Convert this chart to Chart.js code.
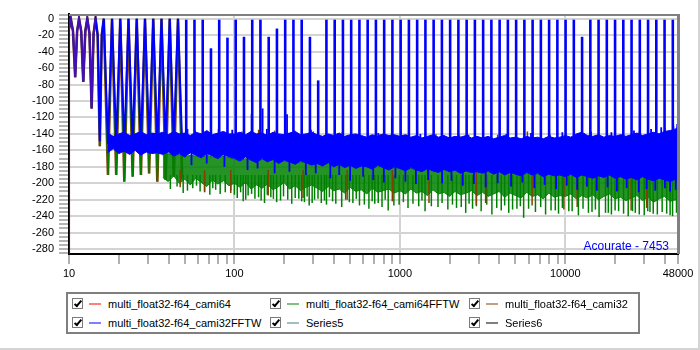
<!DOCTYPE html>
<html>
<head>
<meta charset="utf-8">
<script src="https://cdn.jsdelivr.net/npm/chart.js@4/dist/chart.umd.min.js"></script>
<style>
  html, body { margin: 0; padding: 0; background: #fff; }
  #quadro { position: relative; width: 700px; height: 350px; box-sizing: border-box;
            border-right: 2px solid #d4d4d4; border-bottom: 2px solid #d4d4d4; overflow: hidden;
            font-family: 'Liberation Sans', Arial, sans-serif; }
  #grafico { position: absolute; left: 0; top: 0; }
  #marca { position: absolute; right: 29px; top: 239px; font-size: 12px; line-height: 14px; color: #0000ff; }
  #legenda { position: absolute; left: 66px; top: 292px; width: 574px; height: 42px;
             box-sizing: border-box; border: 2px solid #7f7f7f; }
  .item { position: absolute; height: 14px; font-size: 11px; line-height: 14px; white-space: nowrap; }
  .caixa { position: absolute; left: 0; top: 1px; width: 11px; height: 11px; box-sizing: border-box;
           border: 1px solid #7a7a7a; background: #fff; }
  .caixa::after { content: ''; position: absolute; left: 3px; top: 0; width: 2px; height: 6px;
                  border-right: 2px solid #000; border-bottom: 2px solid #000; transform: rotate(40deg); }
  .traco { position: absolute; left: 17px; top: 6px; width: 12px; height: 2px; opacity: 0.5; }
  .nome { position: absolute; left: 36px; top: 0; color: #000; }
</style>
</head>
<body>
<div id="quadro">
  <canvas id="grafico" width="700" height="290"></canvas>
  <div id="marca">Acourate - 7453</div>
  <div id="legenda"></div>
</div>
<script>
// séries (ordem da legenda, preenchida por coluna)
const nomesSeries = ['multi_float32-f64_cami64', 'multi_float32-f64_cami32FFTW', 'multi_float32-f64_cami64FFTW',
                     'Series5', 'multi_float32-f64_cami32', 'Series6'];
const coresSeries = ['#ff0000', '#0000ff', '#008000', '#408080', '#804000', '#000000'];

// eixos
const ticksX = [10, 20, 30, 40, 50, 60, 70, 80, 90, 100, 200, 300, 400, 500, 600, 700, 800, 900,
                1000, 2000, 3000, 4000, 5000, 6000, 7000, 8000, 9000, 10000, 20000, 30000, 40000, 48000];
const rotulosX = [10, 100, 1000, 10000, 48000];
const gradeX = [100, 1000, 10000];
const rotulosY = [0, -20, -40, -60, -80, -100, -120, -140, -160, -180, -200, -220, -240, -260, -280];
const passoMenorY = 5;

// tons do sinal multitom (Hz) e nível de pico de cada um (dB)
const frequenciasTons = [10.25, 11.5, 12.9, 14.47, 16.23, 18.2, 20.41, 22.89, 25.67, 28.8,
  32.3, 36.23, 40.63, 45.58, 51.12, 57.34, 64.31, 72.13, 80.91, 90.75,
  101.8, 114.2, 128.1, 143.6, 161.1, 180.7, 202.7, 227.3, 255.0, 286.0,
  320.8, 359.8, 403.6, 452.7, 507.8, 569.5, 638.8, 716.5, 803.7, 901.4,
  1011, 1134, 1272, 1427, 1600, 1795, 2013, 2258, 2533, 2841,
  3187, 3574, 4009, 4497, 5044, 5657, 6345, 7117, 7983, 8954,
  10040, 11260, 12630, 14170, 15890, 17820, 19990, 22420, 25150, 28210,
  31640, 35490, 39810, 44650];
const picosTons = [0, 0, 0, 0, 0, 0, 0, 0, 0, 0,
  0, 0, 0, 0, 0, 0, 0, -36, 0, -23,
  0, -22, 0, 0, -22, -12, 0, 0, 0, -22,
  -75, 0, 0, 0, 0, 0, 0, 0, 0, 0,
  0, 0, 0, 0, 0, 0, 0, 0, 0, 0,
  0, 0, 0, 0, 0, 0, 0, 0, 0, 0,
  0, 0, -22, 0, 0, 0, 0, 0, 0, 0,
  0, 0, 0, 0];

// região de baixa frequência, onde os tons aparecem separados
const freqBaixas = [10.02, 10.25, 10.57, 10.9, 11.2, 11.5, 11.85, 12.2, 12.55, 12.9, 13.3, 13.7, 14.08,
  14.47, 14.9, 15.35, 15.78, 16.23, 17.2, 18.2, 19.3, 20.41, 21.6, 22.89, 24.25, 25.67, 27.2,
  28.8, 30.5, 32.3, 34.2, 36.23, 38.4, 40.63, 43.0, 45.58, 48.3];
const baixasAzul = [-12, 0, -15, -71, -15, 0, -15, -77, -15, 0, -18, -109, -18,
  0, -20, -149, -20, 0, -152, 0, -150, 0, -155, 0, -151, 0, -153,
  0, -150, 0, -154, 0, -152, 0, -150, 0, -153];
const baixasFundas = [-12, 0, -15, -71, -15, 0, -15, -77, -15, 0, -18, -109, -18,
  0, -20, -155, -20, 0, -190, 0, -190, 0, -198, 0, -192, 0, -190,
  0, -188, 0, -198, 0, -196, 0, -192, 0, -195];
const freqVermelho = [10.0, 10.02, 10.25, 10.57, 10.9, 11.2, 11.5, 11.85, 12.2, 12.55, 12.9, 13.3, 13.7, 14.08, 14.47];
const dbVermelho = [-300, -12, 0, -15, -71, -15, 0, -15, -77, -15, 0, -18, -109, -18, 0];

// piso de ruído: frequências e bordas superior/inferior de cada faixa (dB)
const freqRuido = [15.8, 17.1, 18.5, 20.0, 21.5, 23.3, 25.1, 27.1, 29.3, 31.6, 34.1, 36.9, 39.8, 43.0, 46.4, 50.1,
  54.1, 58.4, 63.1, 68.1, 73.6, 79.4, 85.8, 92.6,
  100, 108, 117, 126, 136, 147, 158, 171, 185, 200, 215, 233, 251, 271, 293, 316, 341, 369, 398, 430,
  464, 501, 541, 584, 631, 681, 736, 794, 858, 926,
  1000, 1080, 1166, 1259, 1359, 1468, 1585, 1711, 1848, 1995, 2154, 2326, 2512, 2712, 2929, 3162,
  3415, 3687, 3981, 4299, 4642, 5012, 5412, 5843, 6310, 6813, 7356, 7943, 8577, 9261,
  10000, 10800, 11660, 12590, 13590, 14680, 15850, 17110, 18480, 19950, 21540, 23260, 25120, 27120,
  29290, 31620, 34150, 36870, 39810, 42990, 46420, 48000];
const azulTopo = [null, -139, -143, -140, -138, -142, -140, -137, -141, -139, -140,
  -138, -141, -137, -140, -139, -142, -138, -140, -136, -141, -139, -137, -140,
  -140, -138, -141, -137, -140, -139, -142, -138, -140, -141, -139, -137, -141, -140, -138,
  -141, -143, -140, -142, -139, -143, -141, -140, -142, -144, -141, -143, -140, -142, -141,
  -143, -141, -144, -142, -145, -143, -141, -144, -142, -145, -143, -144, -142, -145, -143,
  -145, -143, -146, -144, -142, -145, -144, -146, -143, -145, -144, -146, -143, -145, -144,
  -142, -144, -140, -138, -142, -143, -141, -144, -142, -143, -141, -143,
  -141, -139, -142, -140, -138, -140, -137, -136, -134, -131];
const azulBase = [null, -163, -158, -164, -161, -165, -160, -166, -162, -164, -163,
  -165, -162, -167, -164, -168, -163, -166, -169, -164, -167, -170, -165, -168,
  -170, -173, -168, -172, -175, -170, -174, -171, -176, -172, -174, -177, -173, -175, -178,
  -176, -179, -175, -180, -177, -181, -178, -182, -179, -180, -183, -178, -181, -184, -180,
  -182, -185, -181, -184, -186, -182, -185, -187, -183, -186, -184, -188, -185, -187, -186,
  -188, -185, -189, -186, -190, -187, -189, -191, -187, -190, -188, -192, -189, -191, -190,
  -192, -189, -193, -190, -192, -194, -191, -193, -190, -194, -192, -195,
  -193, -196, -192, -195, -197, -194, -196, -198, -195, -197];
const verdeTopo = [null, null, null, null, null, null, null, null, null, null, null,
  -166, -164, -167, -165, -168, -166, -167, -169, -166, -168, -170, -167, -169,
  -171, -173, -170, -172, -174, -171, -173, -172, -175, -173, -174, -176, -174, -175, -177,
  -176, -178, -176, -179, -177, -180, -178, -181, -179, -180, -182, -179, -181, -183, -181,
  -182, -184, -182, -184, -185, -183, -185, -186, -184, -186, -185, -187, -185, -187, -186,
  -187, -186, -188, -187, -189, -187, -189, -190, -188, -190, -189, -191, -189, -191, -190,
  -191, -190, -192, -190, -191, -193, -191, -192, -190, -193, -192, -194,
  -192, -194, -192, -194, -195, -193, -195, -196, -194, -195];
const verdeBase = [null, null, null, null, null, null, null, null, null, null, null,
  -193, -198, -191, -200, -195, -202, -194, -199, -204, -196, -201, -197, -203,
  -200, -205, -199, -207, -202, -206, -201, -208, -204, -199, -207, -203, -209, -205, -202,
  -206, -210, -204, -209, -207, -212, -205, -210, -208, -213, -206, -211, -209, -207, -212,
  -209, -213, -207, -212, -210, -215, -208, -213, -211, -216, -210, -214, -212, -209, -215,
  -211, -216, -213, -210, -217, -212, -215, -218, -211, -216, -214, -219, -212, -217, -215,
  -216, -213, -219, -215, -218, -214, -220, -216, -213, -219, -217, -221,
  -218, -215, -221, -217, -223, -219, -216, -222, -220, -224];

// picos isolados que saem das faixas de ruído
const baseAzul = -155;
const riscosAzulHz = [52, 55, 68, 87, 97, 120, 127, 138, 148, 157, 175, 208, 215, 230, 270, 290, 310, 380, 430, 450,
  500, 600, 690, 740, 800, 894, 940, 1080, 1250, 1330, 1480, 1800, 2050, 2400, 2600, 2800, 3300, 3900, 4400, 4700,
  5500, 6200, 6500, 7500, 8800, 9600, 10200, 11800, 13500, 14300, 15500, 18000, 19000, 20500, 23500, 26000, 27800,
  31000, 33000, 35000, 38000, 40000, 43000, 45000, 46500, 47500];
const riscosAzulDb = [-134, -178, -176, -180, -135, -184, -116, -182, -109, -134, -188, -116, -186, -136, -190, -135, -188, -194, -190, -138,
  -197, -192, -196, -139, -199, -120, -194, -198, -201, -140, -196, -200, -197, -203, -141, -201, -205, -200, -140, -204,
  -199, -139, -206, -202, -207, -138, -203, -208, -204, -137, -209, -205, -138, -210, -206, -136, -211,
  -207, -134, -209, -132, -206, -210, -130, -208, -128];
const baseVerde = -190;
const picosVerdeHz = [41, 49, 56, 62, 71, 77, 88, 104, 113, 121, 133, 152, 166, 190, 222, 245, 265, 283, 305, 335,
  360, 392, 445, 520, 570, 650, 705, 780, 850, 990, 1120, 1300, 1420, 1700, 1950, 2200, 2500,
  2750, 3100, 3600, 4100, 4550, 5100, 5600, 6600, 7600, 8200, 9100, 10500, 12000, 13800, 16000, 17500, 19000,
  21000, 24000, 26500, 30000, 32500, 36000, 41000, 44500,
  45, 52, 59, 66, 74, 82, 95, 100, 109, 117, 127, 140, 145, 158, 172, 180, 198, 210, 233, 255,
  275, 295, 320, 350, 375, 410, 470, 495, 545, 610, 680, 740, 815, 920, 1050, 1200, 1360, 1550,
  1800, 2080, 2350, 2620, 2900, 3350, 3850, 4300, 4800, 5350, 6000, 7100, 8700, 9600, 11000, 12800,
  14500, 15200, 18200, 20000, 22500, 25500, 28000, 31500, 34000, 38500, 43000, 47000];
const picosVerdeDb = [-207, -212, -206, -210, -214, -208, -211, -218, -222, -215, -219, -224, -217, -221, -225, -219, -223, -227, -220, -224,
  -226, -222, -229, -224, -227, -231, -225, -229, -233, -226, -230, -228, -234, -229, -232, -230, -236,
  -231, -234, -238, -233, -236, -231, -242, -235, -238, -233, -237, -234, -239, -236, -241, -236, -238,
  -234, -240, -236, -239, -235, -238, -237, -240,
  -204, -209, -203, -211, -206, -213, -209, -214, -211, -220, -213, -217, -221, -214, -219, -223, -216, -220, -218, -222,
  -216, -224, -219, -221, -217, -225, -220, -223, -219, -226, -222, -224, -220, -227, -223, -225, -221, -228,
  -224, -226, -229, -225, -228, -226, -230, -227, -232, -228, -231, -229, -233, -230, -234, -231,
  -235, -232, -236, -233, -237, -234, -238, -234, -237, -235, -239, -236];
const marromHz = [58, 80, 111, 140, 175, 228, 300, 420, 560, 760, 1100, 1650, 2300, 3900, 5900, 8100, 13000, 22000, 28000, 40000,
  47, 66, 95, 160, 260, 480, 900, 1500, 2900, 3300, 6300, 9800, 11800, 25000, 31000];
const marromDe = [-150, -150, -150, -150, -150, -150, -150, -150, -150, -150, -150, -150, -150, -150, -150, -150, -150, -150, -150, -150,
  -184, -184, -184, -184, -184, -184, -184, -184, -184, -184, -184, -184, -184, -184, -184];
const marromAte = [-136, -134, -137, -135, -136, -138, -137, -139, -140, -140, -141, -140, -142, -141, -137, -141, -139, -140, -137, -133,
  -205, -210, -212, -215, -218, -220, -222, -224, -226, -224, -227, -232, -229, -233, -230];

const fonte = "'Liberation Sans', Arial, sans-serif";

function pontos(xs, ys) {
    return xs.map((x, i) => ({ x: x, y: ys[i] }));
}

// barras flutuantes finas: um traço vertical por frequência
function tracos(xs, de, ate) {
    return xs.map((x, i) => ({ x: x, y: [Array.isArray(de) ? de[i] : de, ate[i]] }));
}

function serie(nome, dados, cor, largura, ordem, extra) {
    return Object.assign({
        label: nome, data: dados, borderColor: cor, backgroundColor: cor,
        borderWidth: largura, pointRadius: 0, fill: false, order: ordem
    }, extra || {});
}

function barras(nome, dados, cor, espessura, ordem) {
    return {
        type: 'bar', label: nome, data: dados, backgroundColor: cor, borderWidth: 0,
        barThickness: espessura, grouped: false, inflateAmount: 0, order: ordem
    };
}

// tons acima da região de baixa frequência viram traços até o pico
const fimBaixas = freqBaixas[freqBaixas.length - 1];
const tonsHz = [], tonsDb = [];
frequenciasTons.forEach((f, i) => {
    if (f > fimBaixas) { tonsHz.push(f); tonsDb.push(picosTons[i]); }
});

const datasets = [
    serie(nomesSeries[0], pontos(freqVermelho, dbVermelho), 'rgba(150,30,90,0.45)', 2, 0),
    barras(nomesSeries[1], tracos(tonsHz, baseAzul, tonsDb), '#0000ff', 2.6, 1),
    barras(nomesSeries[1], tracos(riscosAzulHz, baseAzul, riscosAzulDb), '#0000ff', 1.8, 2),
    serie(nomesSeries[1], pontos(freqBaixas, baixasAzul), '#0000ff', 2, 3),
    serie(nomesSeries[1], pontos(freqRuido, azulTopo), '#0000ff', 1, 4, { fill: '+1' }),
    serie(nomesSeries[1], pontos(freqRuido, azulBase), '#0000ff', 1, 5),
    barras(nomesSeries[4], tracos(marromHz, marromDe, marromAte), '#804000', 1.5, 6),
    barras(nomesSeries[2], tracos(picosVerdeHz, baseVerde, picosVerdeDb), '#008000', 1.5, 7),
    serie(nomesSeries[2], pontos(freqBaixas, baixasFundas), '#008000', 1.3, 8),
    serie(nomesSeries[2], pontos(freqRuido, verdeTopo), '#008000', 1, 9, { fill: '+1', backgroundColor: 'rgba(0,128,0,0.85)' }),
    serie(nomesSeries[2], pontos(freqRuido, verdeBase), '#008000', 1, 10),
    serie(nomesSeries[4], pontos(freqBaixas, baixasFundas), '#804000', 2.6, 11)
];

// borda superior e direita da área do gráfico
const moldura = {
    id: 'moldura',
    afterDatasetsDraw(chart) {
        const c = chart.ctx, a = chart.chartArea;
        c.save();
        c.strokeStyle = '#808080';
        c.lineWidth = 2;
        c.beginPath(); c.moveTo(a.left, a.top + 1); c.lineTo(a.right + 2, a.top + 1); c.stroke();
        c.lineWidth = 3;
        c.beginPath(); c.moveTo(a.right + 0.5, a.top); c.lineTo(a.right + 0.5, a.bottom); c.stroke();
        c.restore();
    }
};

new Chart(document.getElementById('grafico'), {
    type: 'line',
    data: { datasets: datasets },
    plugins: [moldura],
    options: {
        responsive: false,
        animation: false,
        devicePixelRatio: 1,
        layout: { padding: { top: 14, right: 22, bottom: 6, left: 0 } },
        plugins: { legend: { display: false }, tooltip: { enabled: false } },
        elements: { line: { tension: 0 } },
        scales: {
            x: {
                type: 'logarithmic', min: 10, max: 48000, offset: false,
                afterBuildTicks: (eixo) => { eixo.ticks = ticksX.map(v => ({ value: v })); },
                afterFit: (eixo) => { eixo.height = 30; eixo.paddingLeft = 0; eixo.paddingRight = 0; },
                ticks: {
                    autoSkip: false, maxRotation: 0, minRotation: 0, padding: 3, color: '#000',
                    font: { family: fonte, size: 11 },
                    callback: (v) => rotulosX.includes(v) ? String(v) : ''
                },
                grid: {
                    offset: false,
                    color: (c) => (c.tick && gradeX.includes(c.tick.value)) ? '#d3d3d3' : 'rgba(0,0,0,0)',
                    lineWidth: 2, tickLength: 10, tickWidth: 2, tickColor: '#b0b0b0'
                },
                border: { color: '#000', width: 2 }
            },
            y: {
                min: -286, max: 5.7,
                afterBuildTicks: (eixo) => {
                    const t = [];
                    for (let v = -285; v <= 5; v += passoMenorY) t.push({ value: v });
                    eixo.ticks = t;
                },
                afterFit: (eixo) => { eixo.width = 69; eixo.paddingTop = 0; eixo.paddingBottom = 0; },
                ticks: {
                    autoSkip: false, padding: 5, color: '#000',
                    font: { family: fonte, size: 11 },
                    callback: (v) => rotulosY.includes(v) ? String(v) : ''
                },
                grid: {
                    color: (c) => (c.tick && rotulosY.includes(c.tick.value)) ? '#d3d3d3' : 'rgba(0,0,0,0)',
                    lineWidth: 2, tickLength: 10, tickWidth: 2, tickColor: '#b4b4b4'
                },
                border: { color: '#000', width: 2 }
            }
        }
    }
});

// legenda com caixas de seleção, 3 colunas x 2 linhas
const legenda = document.getElementById('legenda');
const colunasX = [4, 202, 401];
const linhasY = [3, 21.5];
nomesSeries.forEach((nome, i) => {
    const item = document.createElement('div');
    item.className = 'item';
    item.style.left = colunasX[Math.floor(i / 2)] + 'px';
    item.style.top = linhasY[i % 2] + 'px';
    item.innerHTML = '<span class="caixa"></span><span class="traco" style="background:' + coresSeries[i] +
        '"></span><span class="nome">' + nome + '</span>';
    legenda.appendChild(item);
});
</script>
</body>
</html>
